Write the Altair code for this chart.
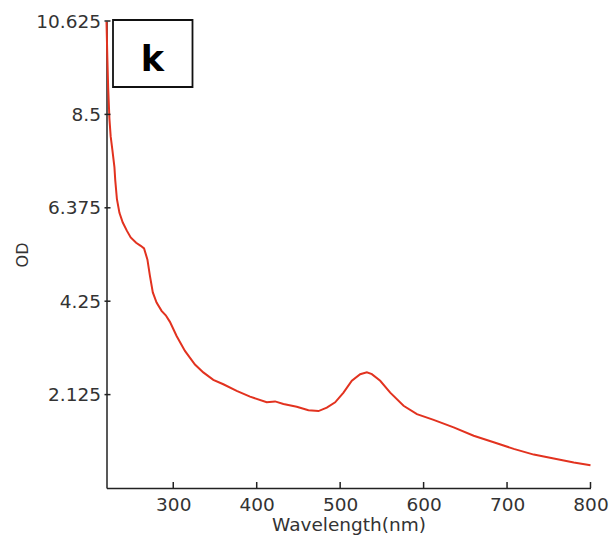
import altair as alt
import pandas as pd

wavelength = [220, 221, 222, 223.5, 225, 227, 229.5, 230.5, 232.5, 235.5, 239.5, 244.5, 249,
              255.5, 261, 265, 269, 272, 275.5, 280, 286, 291, 296, 304, 314, 326, 336, 348,
              360, 376, 392, 412, 422, 432, 448, 462, 474, 484, 494, 504, 514, 524, 532, 538,
              548, 560, 576, 592, 612, 636, 660, 684, 708, 732, 756, 780, 800]
od = [10.6, 9.8, 9.1, 8.4, 8.0, 7.7, 7.3, 7.0, 6.57, 6.26, 6.04, 5.85, 5.70,
      5.58, 5.51, 5.45, 5.20, 4.83, 4.45, 4.22, 4.03, 3.93, 3.78, 3.46, 3.12, 2.81, 2.63, 2.46,
      2.36, 2.21, 2.08, 1.95, 1.97, 1.91, 1.85, 1.77, 1.75, 1.83, 1.95, 2.17, 2.44, 2.59, 2.63, 2.59,
      2.44, 2.17, 1.87, 1.68, 1.55, 1.38, 1.19, 1.04, 0.89, 0.76, 0.67, 0.58, 0.52]
x_ticks = [300, 400, 500, 600, 700, 800]
y_ticks = [2.125, 4.25, 6.375, 8.5, 10.625]
panel_label = ["k"]

W, H = 484, 467
FONT = "DejaVu Sans"
FS = 18.5

df = pd.DataFrame({"wavelength": wavelength, "od": od})
xs = alt.Scale(domain=[220, 800], nice=False, zero=False)
ys = alt.Scale(domain=[0, 10.625], nice=False, zero=True)

x_axis = alt.Axis(title="Wavelength(nm)", values=x_ticks, ticks=False, tickSize=0,
                  grid=False, labelPadding=7, labelFontSize=FS, labelFont=FONT,
                  labelColor="#333", titleFontSize=FS, titleFont=FONT,
                  titleColor="#333", titleFontWeight="normal",
                  titleX=W / 2, titleY=42, titleAlign="center", titleBaseline="alphabetic",
                  domainColor="#222", domainWidth=1.5, labelFlush=False)
y_axis = alt.Axis(title="OD", values=y_ticks, ticks=False, tickSize=0, grid=False,
                  labelPadding=6, labelFontSize=FS, labelFont=FONT,
                  labelColor="#333", titleFontSize=16, titleFont=FONT,
                  titleColor="#333", titleFontWeight="normal",
                  titleX=-84, titleY=H / 2, titleAlign="center", titleAngle=270,
                  titleBaseline="middle", domainColor="#222", domainWidth=1.5,
                  labelFlush=False, format=".3~f")

line = alt.Chart(df).mark_line(color="#e2321f", strokeWidth=2).encode(
    x=alt.X("wavelength:Q", scale=xs, axis=x_axis),
    y=alt.Y("od:Q", scale=ys, axis=y_axis),
)

xt = alt.Chart(pd.DataFrame({"wavelength": x_ticks})).mark_rule(
    color="#222", strokeWidth=1.5).encode(
    x=alt.X("wavelength:Q", scale=xs, axis=x_axis),
    y=alt.value(H), y2=alt.value(H - 6),
)
yt = alt.Chart(pd.DataFrame({"od": y_ticks})).mark_rule(
    color="#222", strokeWidth=1.5).encode(
    y=alt.Y("od:Q", scale=ys, axis=y_axis),
    x=alt.value(-2), x2=alt.value(4),
)

lab = pd.DataFrame({"label": panel_label})
box = alt.Chart(lab).mark_rect(fill="white", stroke="#111", strokeWidth=1.8).encode(
    x=alt.value(6.5), x2=alt.value(86), y=alt.value(-1), y2=alt.value(66),
)
txt = alt.Chart(lab).mark_text(font=FONT, fontSize=35, fontWeight="bold", color="black",
                               align="center", baseline="middle").encode(
    text="label:N", x=alt.value(46), y=alt.value(39),
)

chart = alt.layer(line, xt, yt, box, txt).properties(
    width=W, height=H,
    background="white",
    autosize=alt.AutoSizeParams(type="none"),
    padding={"left": 106.5, "top": 21, "right": 19.5, "bottom": 55},
).configure_view(strokeWidth=0, stroke="transparent")

chart.save("out.html", embed_options={"renderer": "svg", "actions": False})
